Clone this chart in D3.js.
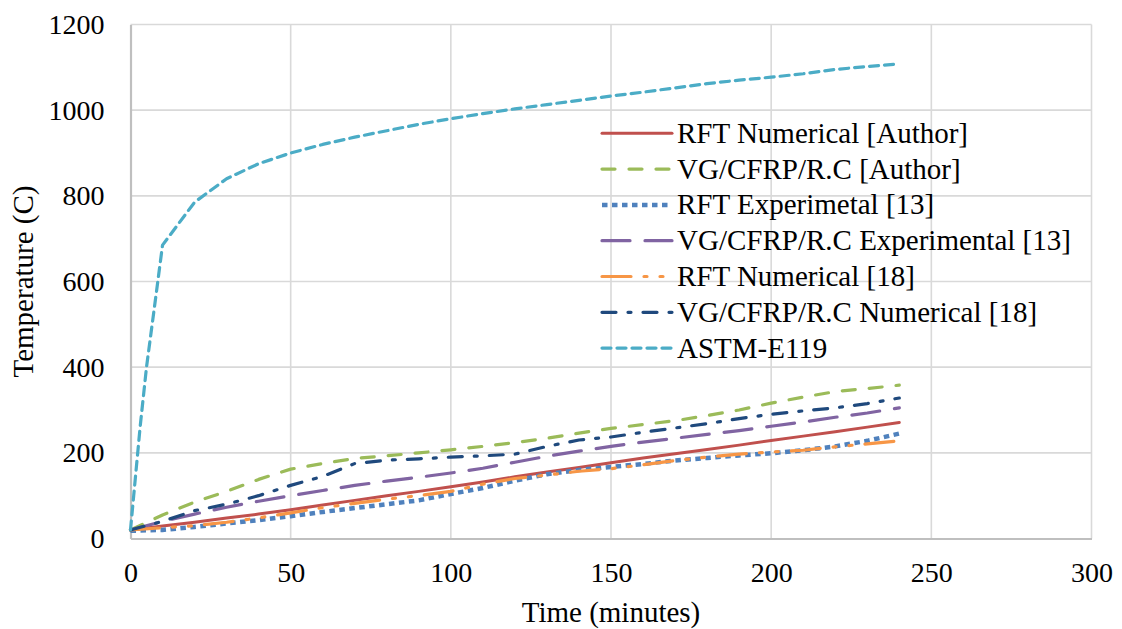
<!DOCTYPE html>
<html><head><meta charset="utf-8">
<script src="https://cdn.jsdelivr.net/npm/d3@7"></script>
<style>
html,body{margin:0;padding:0;background:#fff;}
svg{display:block;font-family:"Liberation Serif","Times New Roman",serif;}
</style></head>
<body>
<svg id="chart" width="1122" height="629"></svg>
<script>
// ---- data ----
const time = [0,10,20,30,40,50,60,70,80,90,100,110,120,130,140,150,160,170,180,190,200,210,220,230,240];
const rftNumericalAuthor = [20,29,38,48,57,67,78,89,100,110,121,132,144,155,166,177,188,198,208,218,229,239,249,260,271];
const vgAuthor = [20,55,85,110,138,162,175,187,193,200,207,215,224,234,246,257,266,275,287,300,316,330,343,350,358];
const rftExperimental13 = [18,20,27,35,43,52,62,71,80,89,104,118,135,150,160,167,174,182,188,194,199,206,215,228,245];
const vgExperimental13 = [20,40,57,73,87,100,112,124,134,143,153,164,178,192,204,215,225,234,243,252,262,272,283,293,305];
const rftNumerical18 = [20,25,30,38,48,60,72,82,92,100,110,127,140,148,157,163,172,182,190,197,202,206,214,221,228];
const vgNumerical18 = [20,40,65,80,100,124,145,175,183,186,190,193,197,215,230,237,248,258,268,280,290,298,305,315,328];
const astmTime = [0,1,3,5,8,10,20,30,40,50,60,70,80,90,100,110,120,130,140,150,160,170,180,190,200,210,220,230,240];
const astmE119 = [20,100,260,400,570,685,785,840,875,900,920,937,952,967,980,992,1003,1013,1023,1033,1042,1052,1062,1070,1077,1085,1095,1102,1108];

const seriesNames = ["RFT Numerical [Author]","VG/CFRP/R.C [Author]","RFT Experimetal [13]","VG/CFRP/R.C Experimental [13]","RFT Numerical [18]","VG/CFRP/R.C Numerical [18]","ASTM-E119"];
const xTicks = [0,50,100,150,200,250,300];
const yTicks = [0,200,400,600,800,1000,1200];

// ---- styles ----
const styles = [
  {color:"#c0504d", width:3, dash:null},
  {color:"#9bbb59", width:3.2, dash:"13,14"},
  {color:"#4f81bd", width:4.5, dash:"5.5,4.5"},
  {color:"#8064a2", width:3.2, dash:"28,15"},
  {color:"#f79646", width:3.2, dash:"29,13,3,13,3,13"},
  {color:"#1f497d", width:3.2, dash:"14,12,3,12"},
  {color:"#4bacc6", width:3.2, dash:"9,6"}
];

const seriesData = [
  {x:time, y:rftNumericalAuthor},
  {x:time, y:vgAuthor},
  {x:time, y:rftExperimental13},
  {x:time, y:vgExperimental13},
  {x:time, y:rftNumerical18},
  {x:time, y:vgNumerical18},
  {x:astmTime, y:astmE119}
];

const svg = d3.select("#chart");
const x = d3.scaleLinear().domain([0,300]).range([130.5,1091.5]);
const y = d3.scaleLinear().domain([0,1200]).range([538.5,24.5]);

// gridlines
const g = svg.append("g");
g.selectAll(".hg").data(yTicks.filter(d=>d>0)).enter().append("line")
  .attr("x1",x(0)).attr("x2",x(300)).attr("y1",d=>y(d)).attr("y2",d=>y(d))
  .attr("stroke","#d9d9d9").attr("stroke-width",1.6);
g.selectAll(".vg").data(xTicks.filter(d=>d>0)).enter().append("line")
  .attr("x1",d=>x(d)).attr("x2",d=>x(d)).attr("y1",y(0)).attr("y2",y(1200))
  .attr("stroke","#d9d9d9").attr("stroke-width",1.6);

// axes
const xAxis = d3.axisBottom(x).tickValues(xTicks).tickSize(0).tickPadding(0).tickFormat(d3.format("d"));
const yAxis = d3.axisLeft(y).tickValues(yTicks).tickSize(0).tickPadding(0).tickFormat(d3.format("d"));
const gx = svg.append("g").attr("transform",`translate(0,${y(0)})`).call(xAxis);
const gy = svg.append("g").attr("transform",`translate(${x(0)},0)`).call(yAxis);
[gx,gy].forEach(a=>{
  a.select(".domain").attr("stroke","#bfbfbf").attr("stroke-width",2.2);
  a.selectAll("text").attr("font-family","Liberation Serif, serif").attr("font-size",28).attr("fill","#000");
});
gx.selectAll("text").attr("dy",null).attr("y",43);
gy.selectAll("text").attr("x",-26).attr("dy","0.32em");

// lines
const line = d3.line().x(d=>x(d[0])).y(d=>y(d[1]));
seriesData.forEach((s,i)=>{
  const pts = s.x.map((t,j)=>[t,s.y[j]]);
  const st = styles[i];
  svg.append("path").datum(pts).attr("d",line)
    .attr("fill","none").attr("stroke",st.color).attr("stroke-width",st.width)
    .attr("stroke-dasharray",st.dash).attr("stroke-linejoin","round")
    .attr("stroke-linecap", i===2 ? "butt" : "round");
});

// legend
const lg = svg.append("g");
seriesNames.forEach((name,i)=>{
  const yy = 133.3 + i*35.8;
  const st = styles[i];
  lg.append("line").attr("x1",602).attr("x2",672).attr("y1",yy).attr("y2",yy)
    .attr("stroke",st.color).attr("stroke-width",st.width)
    .attr("stroke-dasharray",st.dash).attr("stroke-linecap", i===2 ? "butt" : "round");
  lg.append("text").attr("x",677).attr("y",yy).attr("dy","0.33em")
    .attr("font-size",29).attr("fill","#000").text(name);
});

// axis titles
svg.append("text").attr("x",(x(0)+x(300))/2).attr("y",622).attr("text-anchor","middle")
  .attr("font-size",29).attr("fill","#000").text("Time (minutes)");
svg.append("text").attr("transform",`translate(33,${(y(0)+y(1200))/2}) rotate(-90)`)
  .attr("text-anchor","middle").attr("font-size",29).attr("fill","#000").text("Temperature (C)");
</script>
</body></html>
